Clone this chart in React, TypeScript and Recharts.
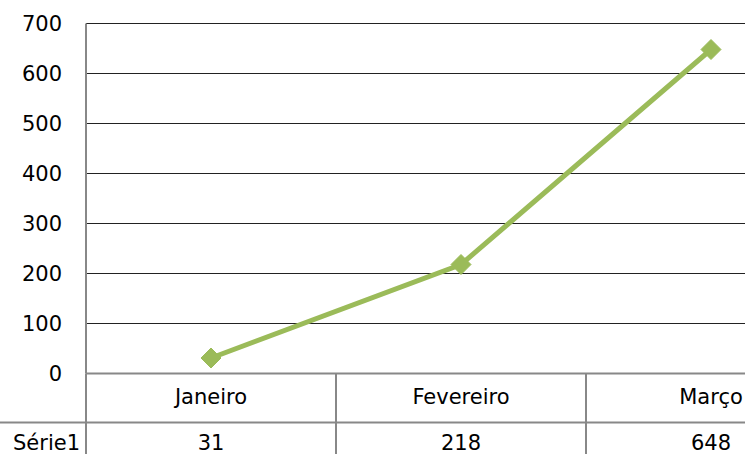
import React from "react";
import { LineChart, Line, XAxis, YAxis, CartesianGrid } from "recharts";

const categories = ["Janeiro", "Fevereiro", "Março"];
const serie1 = [31, 218, 648];
const seriesName = "Série1";
const yTicks = [0, 100, 200, 300, 400, 500, 600, 700];

const data = categories.map((c, i) => ({ name: c, v: serie1[i] }));

const CHART_W = 850;
const CHART_H = 480;
const Y_W = 86;
const M_RIGHT = 14;
const PLOT_W = CHART_W - Y_W - M_RIGHT;
const BAND = PLOT_W / categories.length;
const ROW = 49;
const GRID = "#888888";
const FONT = "'DejaVu Sans', sans-serif";
const FS = 21;

const TableTick = (props: any) => {
  const { x, y, payload, index } = props;
  const left = x - BAND / 2;
  const right = x + BAND / 2;
  return (
    <g>
      <line x1={left} x2={right} y1={y + ROW} y2={y + ROW} stroke={GRID} strokeWidth={2} />
      <line x1={right} x2={right} y1={y} y2={y + 2 * ROW} stroke={GRID} strokeWidth={2} />
      {index === 0 && (
        <g>
          <line x1={left} x2={left} y1={y} y2={y + 2 * ROW} stroke={GRID} strokeWidth={2} />
          <line x1={0} x2={left} y1={y + ROW} y2={y + ROW} stroke={GRID} strokeWidth={2} />
          <text x={13} y={y + ROW + 27} fontFamily={FONT} fontSize={FS} fill="#000">
            {seriesName}
          </text>
        </g>
      )}
      <text x={x} y={y + 30} textAnchor="middle" fontFamily={FONT} fontSize={FS} fill="#000">
        {payload.value}
      </text>
      <text x={x} y={y + ROW + 27} textAnchor="middle" fontFamily={FONT} fontSize={FS} fill="#000">
        {serie1[index]}
      </text>
    </g>
  );
};

const Diamond = (props: any) => {
  const { cx, cy } = props;
  const r = 10;
  return (
    <polygon
      points={`${cx},${cy - r} ${cx + r},${cy} ${cx},${cy + r} ${cx - r},${cy}`}
      fill="#9BBB59"
      stroke="#9BBB59"
    />
  );
};

export default function App() {
  return (
    <div
      style={{
        position: "absolute",
        left: 0,
        top: 0,
        width: 745,
        height: 454,
        overflow: "hidden",
        background: "#fff",
      }}
    >
      <LineChart
        width={CHART_W}
        height={CHART_H}
        data={data}
        margin={{ top: 23.5, right: M_RIGHT, bottom: 6.5, left: 0 }}
      >
        <CartesianGrid vertical={false} stroke="#222" strokeWidth={1} />
        <YAxis
          width={Y_W}
          domain={[0, 700]}
          ticks={yTicks}
          tickLine={false}
          tickSize={6}
          tickMargin={18}
          axisLine={{ stroke: GRID, strokeWidth: 2 }}
          tick={{ fill: "#000", fontFamily: FONT, fontSize: FS }}
        />
        <XAxis
          dataKey="name"
          height={100}
          tickLine={false}
          tickSize={0}
          tickMargin={0}
          padding={{ left: BAND / 2, right: BAND / 2 }}
          axisLine={{ stroke: GRID, strokeWidth: 2 }}
          tick={<TableTick />}
          interval={0}
        />
        <Line
          dataKey="v"
          stroke="#9BBB59"
          strokeWidth={5}
          dot={<Diamond />}
          activeDot={false}
          isAnimationActive={false}
        />
      </LineChart>
    </div>
  );
}
